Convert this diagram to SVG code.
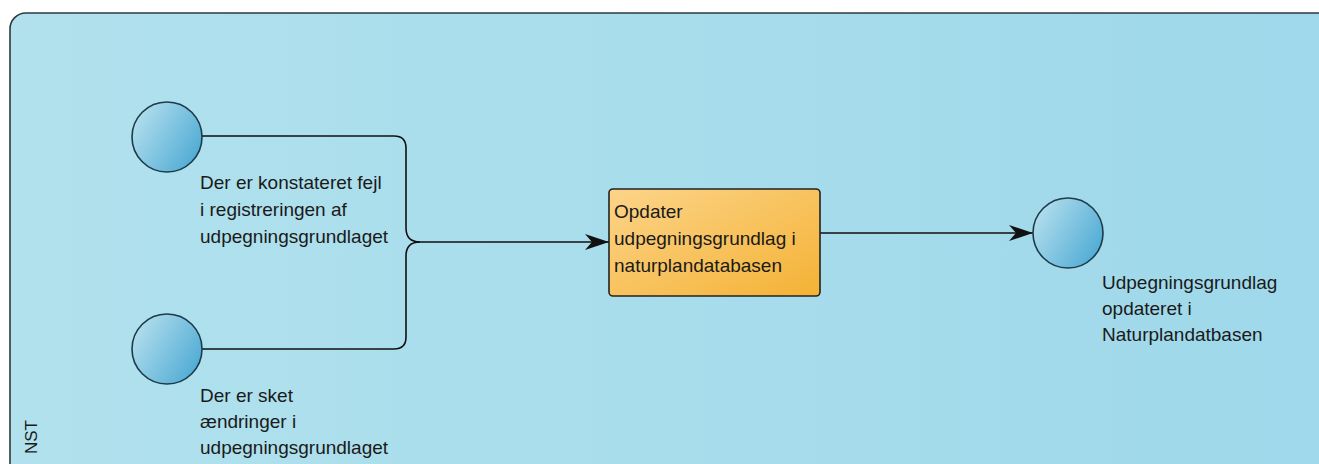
<svg xmlns="http://www.w3.org/2000/svg" width="1319" height="464" viewBox="0 0 1319 464">
<style>
.lbl{font-family:"Liberation Sans",Arial,sans-serif;font-size:19px;fill:#1a1a1a}
.ev{fill:url(#evg);stroke:#1d3b4a;stroke-width:1.6}
.flow{fill:none;stroke:#111;stroke-width:1.6}
</style>
<defs>
<linearGradient id="pool" x1="0" y1="0" x2="1" y2="0">
<stop offset="0" stop-color="#b1e1ed"/>
<stop offset="1" stop-color="#9ed8ea"/>
</linearGradient>
<linearGradient id="evg" x1="0" y1="0.2" x2="1" y2="0.8">
<stop offset="0" stop-color="#b6e0ee"/>
<stop offset="1" stop-color="#4ba9d3"/>
</linearGradient>
<linearGradient id="task" x1="0" y1="0" x2="1" y2="1">
<stop offset="0" stop-color="#fcd489"/>
<stop offset="1" stop-color="#f4b235"/>
</linearGradient>
<marker id="arr" markerUnits="userSpaceOnUse" markerWidth="26" markerHeight="18" refX="24" refY="8" orient="auto">
<path d="M0,0 L24,8 L0,16 L7,8 z" fill="#111"/>
</marker>
</defs>
<g id="pool-nst">
<rect x="10" y="13" width="1340" height="480" rx="16" fill="url(#pool)" stroke="#2f3a40" stroke-width="1.6"/>
<text class="lbl" font-size="17" transform="translate(37,454) rotate(-90)" style="font-size:17px">NST</text>
</g>
<g id="connectors">
<path class="flow" d="M202,136 H394 Q406,136 406,148 V228 Q406,242 420,242"/>
<path class="flow" d="M202,349 H394 Q406,349 406,337 V256 Q406,242 420,242"/>
<path class="flow" d="M420,242 H609" marker-end="url(#arr)"/>
<path class="flow" d="M820,233 H1033" marker-end="url(#arr)"/>
</g>
<g id="start1">
<circle class="ev" cx="167" cy="137" r="35"/>
<text class="lbl" x="200" y="189">Der er konstateret fejl</text>
<text class="lbl" x="200" y="216">i registreringen af</text>
<text class="lbl" x="200" y="243">udpegningsgrundlaget</text>
</g>
<g id="start2">
<circle class="ev" cx="167" cy="349" r="35"/>
<text class="lbl" x="200" y="402">Der er sket</text>
<text class="lbl" x="200" y="428">ændringer i</text>
<text class="lbl" x="200" y="454">udpegningsgrundlaget</text>
</g>
<g id="task1">
<rect x="609" y="189" width="211" height="107" rx="4" fill="url(#task)" stroke="#222" stroke-width="1.6"/>
<text class="lbl" x="614" y="218">Opdater</text>
<text class="lbl" x="614" y="245">udpegningsgrundlag i</text>
<text class="lbl" x="614" y="272">naturplandatabasen</text>
</g>
<g id="end1">
<circle class="ev" cx="1068" cy="233" r="35"/>
<text class="lbl" x="1102" y="289">Udpegningsgrundlag</text>
<text class="lbl" x="1102" y="315">opdateret i</text>
<text class="lbl" x="1102" y="341">Naturplandatbasen</text>
</g>
</svg>
